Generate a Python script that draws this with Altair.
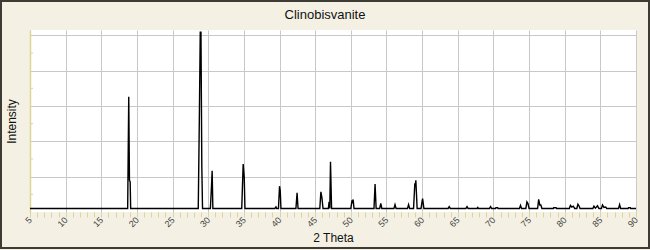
import altair as alt
import pandas as pd

chart_title = "Clinobisvanite"
x_title = "2 Theta"
y_title = "Intensity"

# Diffraction profile vertices (2 theta in degrees, relative intensity)
two_theta = [
    5.0,
    18.70, 18.85, 18.95, 19.05, 19.12,
    28.60, 28.75, 28.88, 28.98, 29.10, 29.20,
    30.30, 30.45, 30.55, 30.65,
    34.70, 34.90, 35.05, 35.15,
    39.35, 39.50, 39.60,
    39.85, 40.00, 40.10, 40.20,
    42.30, 42.46, 42.60,
    45.65, 45.80, 45.95, 46.10,
    46.85, 46.95, 47.05, 47.15, 47.30,
    50.00, 50.15, 50.25, 50.32, 50.45,
    53.25, 53.40, 53.55,
    54.05, 54.20, 54.35,
    56.05, 56.20, 56.35,
    57.95, 58.10, 58.25,
    58.80, 58.98, 59.05, 59.12, 59.30,
    59.85, 60.00, 60.07, 60.25,
    63.65, 63.80, 63.95,
    66.15, 66.30, 66.45,
    67.70, 67.80, 67.90,
    69.45, 69.60, 69.75,
    70.30, 70.35, 70.60, 70.65,
    73.65, 73.80, 73.95,
    74.55, 74.70, 74.85, 75.00,
    76.20, 76.35, 76.50, 76.65, 76.80,
    78.40, 78.45, 78.80, 78.85,
    80.65, 80.80, 81.00, 81.20, 81.40, 81.70, 81.85, 82.00, 82.15,
    83.95, 84.10, 84.30, 84.60, 84.80, 85.15, 85.30, 85.50, 85.75, 85.90,
    87.55, 87.70, 87.85,
    88.90, 88.95, 89.20, 89.25,
    90.0,
]
intensity = [
    20,
    20, 652, 180, 170, 20,
    20, 520, 1017, 1017, 254, 20,
    20, 140, 233, 20,
    20, 271, 197, 20,
    20, 29, 20,
    20, 146, 120, 20,
    20, 108, 20,
    20, 114, 80, 20,
    20, 57, 20, 284, 20,
    20, 60, 55, 71, 20,
    20, 158, 20,
    20, 48, 20,
    20, 42, 20,
    20, 42, 20,
    20, 163, 150, 180, 20,
    20, 61, 76, 20,
    20, 30, 20,
    20, 30, 20,
    20, 26, 20,
    20, 30, 20,
    20, 24, 24, 20,
    20, 37, 20,
    20, 57, 48, 20,
    20, 71, 40, 40, 20,
    20, 24, 24, 20,
    20, 37, 28, 33, 20, 20, 44, 35, 20,
    20, 33, 22, 35, 20, 20, 40, 26, 28, 20,
    20, 42, 20,
    20, 24, 24, 20,
    20,
]

x_tick_values = list(range(5, 91))          # small ticks every degree, labels every 5
y_grid_values = [200, 400, 600, 800, 1000]
y_minor_ticks = [100, 300, 500, 700, 900]
x_domain = [5, 90]
y_domain = [0, 1030]

AXIS_YELLOW = "#ddd596"
GRID_GRAY = "#c8c8c8"
BG = "#f4f1e4"
FONT = "Liberation Sans"

df = pd.DataFrame({"two_theta": two_theta, "intensity": intensity})
df["order"] = range(len(df))

x_scale = alt.Scale(domain=x_domain, nice=False, zero=False)
y_scale = alt.Scale(domain=y_domain, nice=False)

y_axis = alt.Axis(
    values=y_grid_values,
    labels=False,
    ticks=False,
    grid=True,
    gridColor=GRID_GRAY,
    gridWidth=1,
    domain=True,
    domainColor=AXIS_YELLOW,
    domainWidth=1.5,
    titleFont=FONT,
    titleFontSize=12,
    titleFontWeight="normal",
    titleColor="#111111",
    titleAngle=270,
    titleAlign="center",
    titleBaseline="middle",
    titleX=-19,
    titleY=91,
)

line = alt.Chart(df).mark_line(color="black", strokeWidth=1.4).encode(
    x=alt.X(
        "two_theta:Q",
        scale=x_scale,
        title=x_title,
        axis=alt.Axis(
            values=x_tick_values,
            labelExpr="datum.value % 5 === 0 ? datum.label : ''",
            format="d",
            grid=True,
            gridColor=GRID_GRAY,
            gridWidth=1,
            gridOpacity={"condition": {"test": "datum.value % 5 === 0", "value": 1}, "value": 0},
            domain=False,
            ticks=True,
            tickColor=AXIS_YELLOW,
            tickSize=5,
            tickWidth=1,
            labelAngle=-45,
            labelAlign="right",
            labelBaseline="middle",
            labelPadding=1,
            labelFont=FONT,
            labelFontSize=9,
            labelColor="#444444",
            labelOverlap=False,
            titleFont=FONT,
            titleFontSize=12,
            titleFontWeight="normal",
            titleColor="#111111",
            titleBaseline="alphabetic",
            titleY=29,
        ),
    ),
    y=alt.Y("intensity:Q", scale=y_scale, title=y_title, axis=y_axis),
    order="order:Q",
)

minor = alt.Chart(pd.DataFrame({"intensity": y_minor_ticks})).mark_rule(
    color=AXIS_YELLOW, strokeWidth=1
).encode(
    y=alt.Y("intensity:Q", scale=y_scale, title=y_title, axis=y_axis),
    x=alt.value(0),
    x2=alt.value(3),
)

frame = alt.Chart(pd.DataFrame({"a": [0]})).mark_rect(
    fillOpacity=0, stroke="#3d3b33", strokeWidth=2, clip=False
).encode(
    x=alt.value(-29),
    x2=alt.value(619),
    y=alt.value(-29),
    y2=alt.value(218),
)

title_text = alt.Chart(pd.DataFrame({"t": [chart_title]})).mark_text(
    font=FONT, fontSize=13, color="#111111", align="center", baseline="alphabetic"
).encode(
    text="t:N",
    x=alt.value(295),
    y=alt.value(-11),
)

chart = alt.layer(line, minor, frame, title_text).properties(
    width=606,
    height=182,
    background=BG,
    padding={"left": 30, "top": 30, "right": 14, "bottom": 38},
    autosize=alt.AutoSizeParams(type="none"),
).configure_view(fill="white", strokeWidth=0)

chart.save("out.html", embed_options={"renderer": "svg", "actions": False})
